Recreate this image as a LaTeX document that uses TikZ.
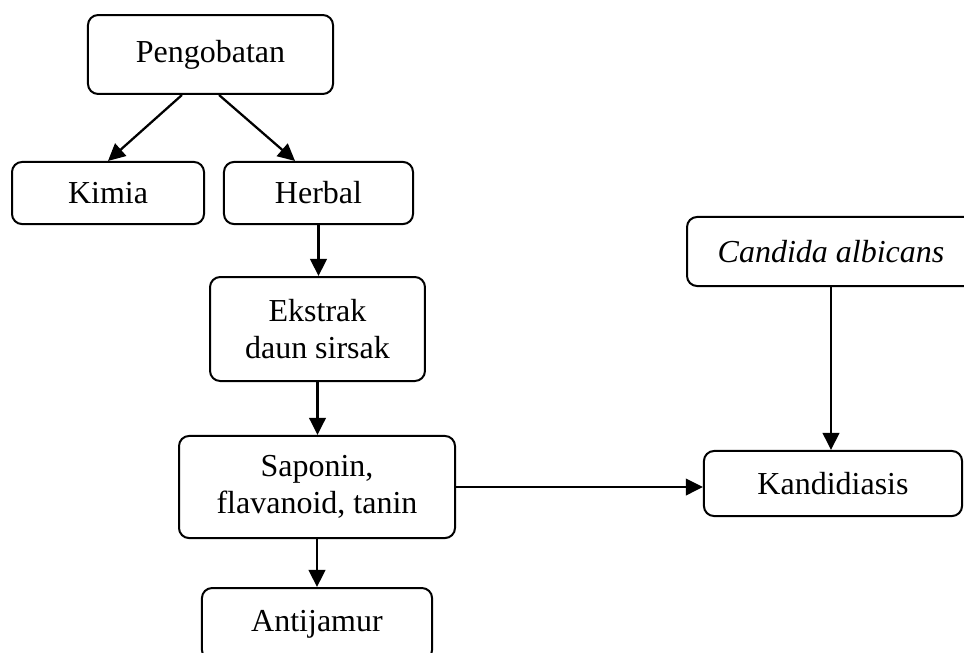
\documentclass[tikz,border=0pt]{standalone}
\usepackage{fontspec}
\setmainfont{Liberation Serif}
\usetikzlibrary{arrows.meta}

\tikzset{
	box/.style={draw, rounded corners=3.8pt, line width=0.75pt, align=center,
		inner sep=0pt, font=\fontsize{12}{13.8}\selectfont},
	arr/.style={line width=0.85pt, -{Triangle[length=6.4pt,width=6.2pt]}}
}

\begin{document}
\begin{tikzpicture}[x=0.375pt, y=-0.375pt]
			%%%%% START %%%%%
			
			\useasboundingbox (0, 0) rectangle (964, 652);
			\clip (0, 0) rectangle (964, 652);
			
			\node[box, minimum width=91.9pt, minimum height=29.6pt] (peng) at (210.5, 54.5) {Pengobatan};
			
			\node[box, minimum width=72pt, minimum height=23.3pt] (kimia) at (108, 193) {Kimia};
			\node[box, minimum width=70.9pt, minimum height=23.3pt] (herbal) at (318.5, 193) {Herbal};
			
			\node[box, minimum width=80.6pt, minimum height=39pt] (ekstrak) at (317.5, 329) {Ekstrak\\daun sirsak};
			\node[box, minimum width=103.5pt, minimum height=38.3pt] (saponin) at (317, 487) {Saponin,\\flavanoid, tanin};
			\node[box, minimum width=86.3pt, minimum height=27pt] (antijamur) at (317, 624) {Antijamur};
			
			\node[box, minimum width=108pt, minimum height=25.9pt] (candida) at (831, 251.5) {\itshape Candida albicans};
			\node[box, minimum width=96.8pt, minimum height=24.4pt] (kandi) at (833, 483.5) {Kandidiasis};
			
			\draw[arr] ([xshift=-10.7pt]peng.south) -- (kimia.north);
			\draw[arr] ([xshift=3.2pt]peng.south) -- ([xshift=-8.8pt]herbal.north);
			\draw[arr] (herbal.south) -- (herbal.south |- ekstrak.north);
			\draw[arr] (ekstrak.south) -- (ekstrak.south |- saponin.north);
			\draw[arr] (saponin.south) -- (saponin.south |- antijamur.north);
			
			\draw[arr] (saponin.east) -- (saponin.east -| kandi.west);
			\draw[arr] (candida.south) -- (candida.south |- kandi.north);
			
			%%%%% END %%%%%
		\end{tikzpicture}
\end{document}
